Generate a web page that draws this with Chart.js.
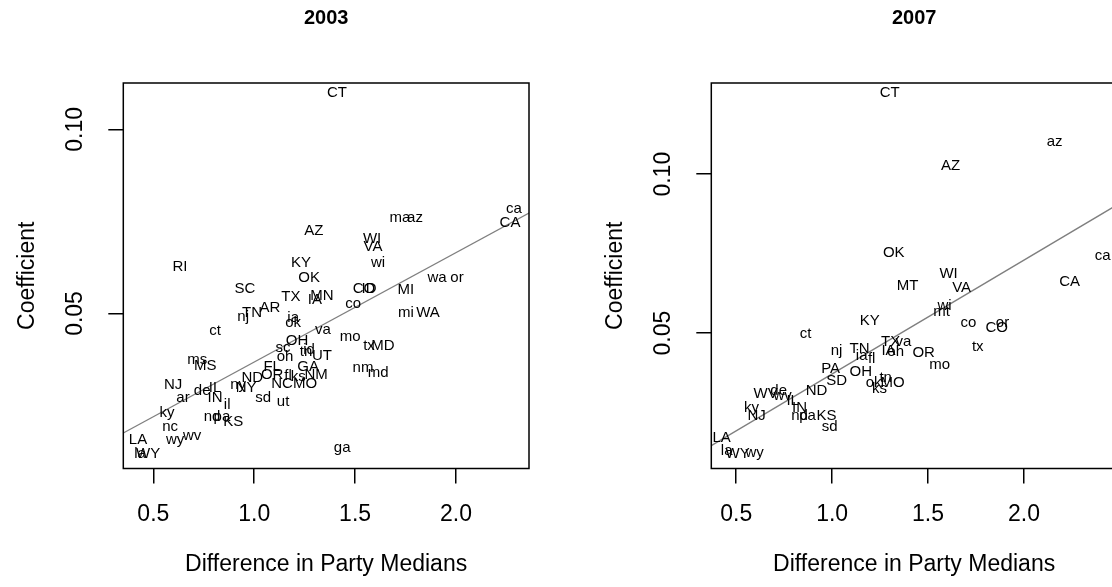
<!DOCTYPE html>
<html>
<head>
<meta charset="utf-8">
<script src="https://cdn.jsdelivr.net/npm/chart.js@4/dist/chart.umd.min.js"></script>
<style>
  html, body { margin: 0; padding: 0; background: #fff; overflow: hidden; }
  #wrap { position: relative; width: 1112px; height: 587px; overflow: hidden; }
  .panel { position: absolute; top: 0; width: 588px; height: 587px; }
</style>
</head>
<body>
<div id="wrap">
  <div class="panel" style="left:0"><canvas id="chart2003" width="588" height="587"></canvas></div>
  <div class="panel" style="left:588px"><canvas id="chart2007" width="588" height="587"></canvas></div>
</div>
<script>
// Tick labels shared by both panels
const xTicks = [0.5, 1.0, 1.5, 2.0];
const yTicks = [0.05, 0.10];

// 2003 - upper case states
const upper03 = ['CT','AZ','RI','KY','OK','SC','TX','MN','IA','CO','ID','MI','WI','VA','CA','WA','MD','AR','TN','OH','UT','FL','GA','OR','NM','ND','NC','MO','NY','NJ','IL','IN','MS','KS','LA','WY'];
const upperX03 = [1.410,1.296,0.632,1.232,1.272,0.954,1.182,1.336,1.301,1.544,1.569,1.752,1.584,1.589,2.268,1.861,1.638,1.078,0.989,1.212,1.336,1.089,1.267,1.089,1.307,0.990,1.138,1.252,0.960,0.598,0.806,0.806,0.757,0.896,0.424,0.474];
const upperY03 = [0.1099,0.0724,0.0626,0.0637,0.0596,0.0566,0.0544,0.0547,0.0536,0.0566,0.0566,0.0563,0.0702,0.0680,0.0745,0.0501,0.0411,0.0514,0.0501,0.0425,0.0384,0.0354,0.0354,0.0332,0.0332,0.0324,0.0310,0.0310,0.0297,0.0305,0.0297,0.0272,0.0359,0.0205,0.0156,0.0120];

// 2003 - lower case states
const lower03 = ['ma','az','ca','wi','wa','or','mi','co','mo','tx','nm','md','ga','va','nj','ia','ok','ct','sc','oh','tn','id','fl','ks','ny','sd','ut','il','ms','ar','de','ky','nc','wy','wv','la','nd','pa'];
const lowerX03 = [1.722,1.797,2.287,1.614,1.906,2.005,1.752,1.490,1.475,1.569,1.539,1.614,1.436,1.341,0.945,1.193,1.193,0.806,1.143,1.153,1.257,1.272,1.168,1.218,0.920,1.044,1.143,0.866,0.717,0.647,0.742,0.568,0.583,0.608,0.692,0.434,0.791,0.840];
const lowerY03 = [0.0759,0.0759,0.0783,0.0637,0.0596,0.0596,0.0501,0.0525,0.0436,0.0411,0.0351,0.0340,0.0134,0.0455,0.0490,0.0487,0.0474,0.0452,0.0406,0.0383,0.0395,0.0400,0.0330,0.0327,0.0305,0.0272,0.0259,0.0251,0.0373,0.0272,0.0289,0.0229,0.0191,0.0156,0.0169,0.0120,0.0218,0.0218];

// 2007 - upper case states
const upper07 = ['CT','AZ','OK','MT','WI','VA','CA','KY','CO','TX','TN','IA','OR','PA','OH','SD','MO','ND','WV','IL','IN','KS','NJ','LA','WY'];
const upperX07 = [1.300,1.618,1.321,1.393,1.607,1.675,2.238,1.196,1.858,1.305,1.143,1.294,1.477,0.992,1.149,1.023,1.315,0.919,0.653,0.794,0.830,0.971,0.606,0.424,0.507];
const upperY07 = [0.1255,0.1025,0.0751,0.0650,0.0688,0.0641,0.0660,0.0537,0.0515,0.0474,0.0449,0.0445,0.0439,0.0389,0.0379,0.0351,0.0342,0.0319,0.0310,0.0288,0.0266,0.0241,0.0241,0.0171,0.0121];

// 2007 - lower case states
const lower07 = ['az','ca','wi','mt','co','or','tx','mo','ct','nj','ia','fl','oh','va','ok','tn','ks','de','wv','ky','nd','pa','sd','la','wy'];
const lowerX07 = [2.160,2.410,1.586,1.570,1.711,1.888,1.759,1.560,0.862,1.023,1.154,1.206,1.331,1.372,1.216,1.279,1.247,0.721,0.742,0.580,0.830,0.872,0.987,0.450,0.596];
const lowerY07 = [0.1101,0.0742,0.0587,0.0568,0.0531,0.0531,0.0458,0.0401,0.0499,0.0445,0.0430,0.0420,0.0442,0.0471,0.0345,0.0360,0.0326,0.0319,0.0301,0.0266,0.0241,0.0241,0.0206,0.0130,0.0124];

// fitted line [intercept, slope] and axis limits
const fit03 = [0.00713, 0.0297];
const fit07 = [0.00137, 0.0358];
const xLim03 = [0.351, 2.362], yLim03 = [0.0079, 0.1126];
const xLim07 = [0.370, 2.485], yLim07 = [0.0074, 0.1287];

const FONT = '"Liberation Sans", Arial, sans-serif';

function points(xs, ys) {
    return xs.map((x, i) => ({ x: x, y: ys[i] }));
}

// draws the box, the state names, rotated y tick labels and the title (R style)
const rStyle = {
    id: 'rStyle',
    afterDatasetsDraw(chart, args, opts) {
        const ctx = chart.ctx;
        const a = chart.chartArea;
        const yScale = chart.scales.y;
        ctx.save();
        ctx.fillStyle = '#000';
        ctx.textAlign = 'center';
        ctx.textBaseline = 'middle';

        ctx.font = '15px ' + FONT;
        chart.data.datasets.forEach((ds, i) => {
            if (!ds.names) return;
            chart.getDatasetMeta(i).data.forEach((pt, j) => {
                ctx.fillText(ds.names[j], pt.x, pt.y);
            });
        });

        ctx.strokeStyle = '#000';
        ctx.lineWidth = 1.5;
        ctx.strokeRect(a.left, a.top, a.right - a.left, a.bottom - a.top);

        ctx.font = '23px ' + FONT;
        yTicks.forEach(v => {
            ctx.save();
            ctx.translate(a.left - 48, yScale.getPixelForValue(v));
            ctx.rotate(-Math.PI / 2);
            ctx.fillText(v.toFixed(2), 0, 0);
            ctx.restore();
        });

        ctx.font = 'bold 20px ' + FONT;
        ctx.fillText(opts.title, (a.left + a.right) / 2, 18);
        ctx.restore();
    }
};

function makePanel(id, title, up, upX, upY, low, lowX, lowY, fit, xLim, yLim) {
    const ctx = document.getElementById(id).getContext('2d');
    return new Chart(ctx, {
        type: 'scatter',
        data: {
            datasets: [
                { label: 'upper', data: points(upX, upY), names: up, pointRadius: 0 },
                { label: 'lower', data: points(lowX, lowY), names: low, pointRadius: 0 },
                {
                    type: 'line',
                    label: 'fit',
                    data: xLim.map(x => ({ x: x, y: fit[0] + fit[1] * x })),
                    borderColor: '#7f7f7f',
                    borderWidth: 1.3,
                    pointRadius: 0,
                    fill: false
                }
            ]
        },
        options: {
            responsive: false,
            animation: false,
            layout: { padding: { left: 0, right: 59, top: 83, bottom: 0 } },
            plugins: {
                legend: { display: false },
                tooltip: { enabled: false },
                rStyle: { title: title }
            },
            scales: {
                x: {
                    type: 'linear',
                    min: xLim[0],
                    max: xLim[1],
                    afterBuildTicks: s => { s.ticks = xTicks.map(v => ({ value: v })); },
                    afterFit: s => { s.height = 118.5; },
                    grid: { drawOnChartArea: false, drawTicks: true, tickLength: 15, color: '#000', lineWidth: 1.5 },
                    border: { display: false },
                    ticks: {
                        color: '#000',
                        font: { family: FONT, size: 23 },
                        padding: 17,
                        maxRotation: 0,
                        callback: v => v.toFixed(1)
                    },
                    title: {
                        display: true,
                        text: 'Difference in Party Medians',
                        color: '#000',
                        font: { family: FONT, size: 23 },
                        padding: { top: 0, bottom: 9 }
                    }
                },
                y: {
                    type: 'linear',
                    min: yLim[0],
                    max: yLim[1],
                    afterBuildTicks: s => { s.ticks = yTicks.map(v => ({ value: v })); },
                    afterFit: s => { s.width = 123.3; },
                    grid: { drawOnChartArea: false, drawTicks: true, tickLength: 15, color: '#000', lineWidth: 1.5 },
                    border: { display: false },
                    ticks: { display: false },
                    title: {
                        display: true,
                        text: 'Coefficient',
                        color: '#000',
                        font: { family: FONT, size: 23 },
                        padding: { top: 14, bottom: 0 }
                    }
                }
            }
        },
        plugins: [rStyle]
    });
}

makePanel('chart2003', '2003', upper03, upperX03, upperY03, lower03, lowerX03, lowerY03, fit03, xLim03, yLim03);
makePanel('chart2007', '2007', upper07, upperX07, upperY07, lower07, lowerX07, lowerY07, fit07, xLim07, yLim07);
</script>
</body>
</html>
